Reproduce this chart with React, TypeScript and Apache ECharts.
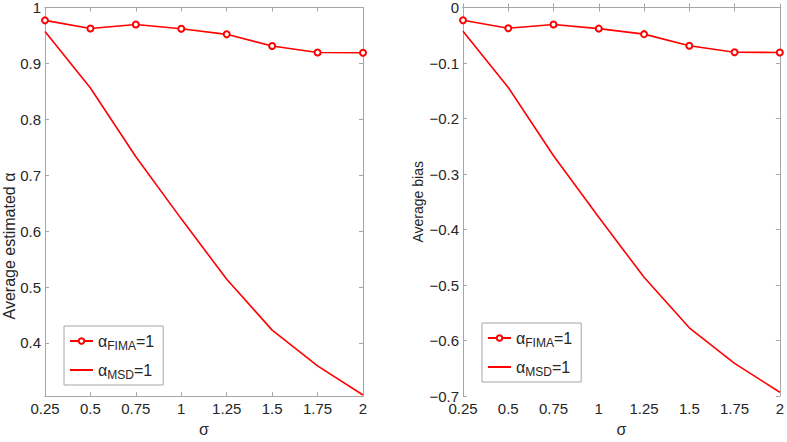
import React, { useEffect, useRef } from "react";
import * as echarts from "echarts";

const sigma = [0.25, 0.5, 0.75, 1, 1.25, 1.5, 1.75, 2];
const fimaAlpha = [0.977, 0.9625, 0.9695, 0.962, 0.952, 0.931, 0.9195, 0.919];
const msdAlpha = [0.957, 0.856, 0.733, 0.622, 0.514, 0.423, 0.359, 0.307];
const fimaBias = [-0.023, -0.0375, -0.0305, -0.038, -0.048, -0.069, -0.0805, -0.081];
const msdBias = [-0.043, -0.144, -0.267, -0.378, -0.486, -0.577, -0.641, -0.693];
const alphaTicks = [0.4, 0.5, 0.6, 0.7, 0.8, 0.9, 1];
const biasTicks = [-0.7, -0.6, -0.5, -0.4, -0.3, -0.2, -0.1, 0];

const FONT = "'Liberation Sans', Arial, Helvetica, sans-serif";
const AXIS_COLOR = "#a6a6a6";
const TEXT_COLOR = "#262626";
const RED = "#ff0000";

function fmt(v: number): string {
  if (Math.abs(v) < 1e-9) return "0";
  const s = Math.abs(v).toFixed(2).replace(/0+$/, "").replace(/\.$/, "");
  return (v < 0 ? "\u2212" : "") + s;
}

const baseAxisLine = { show: true, lineStyle: { color: AXIS_COLOR, width: 1 } };
const baseTick = { show: true, inside: true, length: 4, lineStyle: { color: AXIS_COLOR } };

function xAxes(gridIndex: number) {
  const common = {
    type: "value",
    gridIndex,
    min: 0.25,
    max: 2,
    interval: 0.25,
    splitLine: { show: false },
    axisLine: baseAxisLine,
    axisTick: baseTick,
  };
  return [
    {
      ...common,
      position: "bottom",
      name: "\u03c3",
      nameLocation: "middle",
      nameGap: 20,
      nameTextStyle: { fontFamily: FONT, fontSize: 16, color: TEXT_COLOR },
      axisLabel: {
        fontFamily: FONT,
        fontSize: 15,
        color: TEXT_COLOR,
        margin: 5,
        formatter: (v: number) => fmt(v),
      },
    },
    { ...common, position: "top", axisLabel: { show: false } },
  ];
}

function yAxes(gridIndex: number, min: number, max: number, ticks: number[], name?: string) {
  const common = {
    type: "value",
    gridIndex,
    min,
    max,
    splitLine: { show: false },
    axisLine: baseAxisLine,
    axisTick: { ...baseTick, customValues: ticks },
  };
  return [
    {
      ...common,
      position: "left",
      name: name || "",
      nameLocation: "middle",
      nameGap: 38,
      nameTextStyle: { fontFamily: FONT, fontSize: 14, color: TEXT_COLOR },
      axisLabel: {
        fontFamily: FONT,
        fontSize: 15,
        color: TEXT_COLOR,
        margin: 4,
        customValues: ticks,
        formatter: (v: number) => fmt(v),
      },
    },
    { ...common, position: "right", axisLabel: { show: false } },
  ];
}

const legendRich = {
  a: { fontFamily: FONT, fontSize: 16, color: TEXT_COLOR, lineHeight: 20 },
  s: { fontFamily: FONT, fontSize: 12, color: TEXT_COLOR, lineHeight: 20, padding: [10, 0, 0, 0] },
};

function legendFmt(name: string) {
  return "{a|\u03b1}{s|" + name + "}{a|=1}";
}

function makeLegend(left: number, top: number) {
  return {
    orient: "vertical",
    left,
    top,
    width: 92,
    itemWidth: 23,
    itemHeight: 7,
    itemGap: 7,
    padding: [4, 9, 4, 5],
    borderColor: AXIS_COLOR,
    borderWidth: 1,
    backgroundColor: "#ffffff",
    selectedMode: false,
    data: [
      { name: "FIMA" },
      {
        name: "MSD",
        itemStyle: { opacity: 0, color: "rgba(0,0,0,0)", borderColor: "rgba(0,0,0,0)", borderWidth: 0 },
      },
    ],
    formatter: legendFmt,
    textStyle: { rich: legendRich },
  };
}

function lineSeries(name: string, x: number, y: number, vals: number[], marker: boolean) {
  return {
    type: "line",
    name,
    xAxisIndex: x,
    yAxisIndex: y,
    data: sigma.map((s, i) => [s, vals[i]]),
    symbol: marker ? "emptyCircle" : "none",
    showSymbol: marker,
    symbolSize: 6,
    itemStyle: { color: RED, borderColor: RED, borderWidth: 1.5 },
    lineStyle: { color: RED, width: 1.6 },
    z: marker ? 3 : 2,
  };
}

export default function App() {
  const ref = useRef<HTMLDivElement>(null);
  useEffect(() => {
    if (!ref.current) return;
    const chart = echarts.init(ref.current, undefined, { renderer: "svg" });
    chart.setOption({
      animation: false,
      backgroundColor: "#ffffff",
      grid: [
        { left: 45, top: 7, width: 318, height: 399, show: false },
        { left: 463, top: 7, width: 319, height: 399, show: false },
      ],
      xAxis: [...xAxes(0), ...xAxes(1)],
      yAxis: [
        ...yAxes(0, 0.305, 1, alphaTicks),
        ...yAxes(1, -0.7, 0, biasTicks, "Average bias"),
      ],
      legend: [makeLegend(64, 326), makeLegend(482, 323)],
      graphic: [
        {
          type: "text",
          x: 9,
          y: 246,
          rotation: Math.PI / 2,
          style: {
            text: "Average estimated \u03b1",
            fontFamily: FONT,
            fontSize: 16,
            fill: TEXT_COLOR,
            align: "center",
            verticalAlign: "middle",
          },
        },
      ],
      series: [
        lineSeries("FIMA", 0, 0, fimaAlpha, true),
        lineSeries("MSD", 0, 0, msdAlpha, false),
        lineSeries("FIMA", 2, 2, fimaBias, true),
        lineSeries("MSD", 2, 2, msdBias, false),
      ],
    });
    return () => chart.dispose();
  }, []);
  return (
    <div
      ref={ref}
      style={{ position: "fixed", left: 0, top: 0, width: 787, height: 442 }}
    />
  );
}
